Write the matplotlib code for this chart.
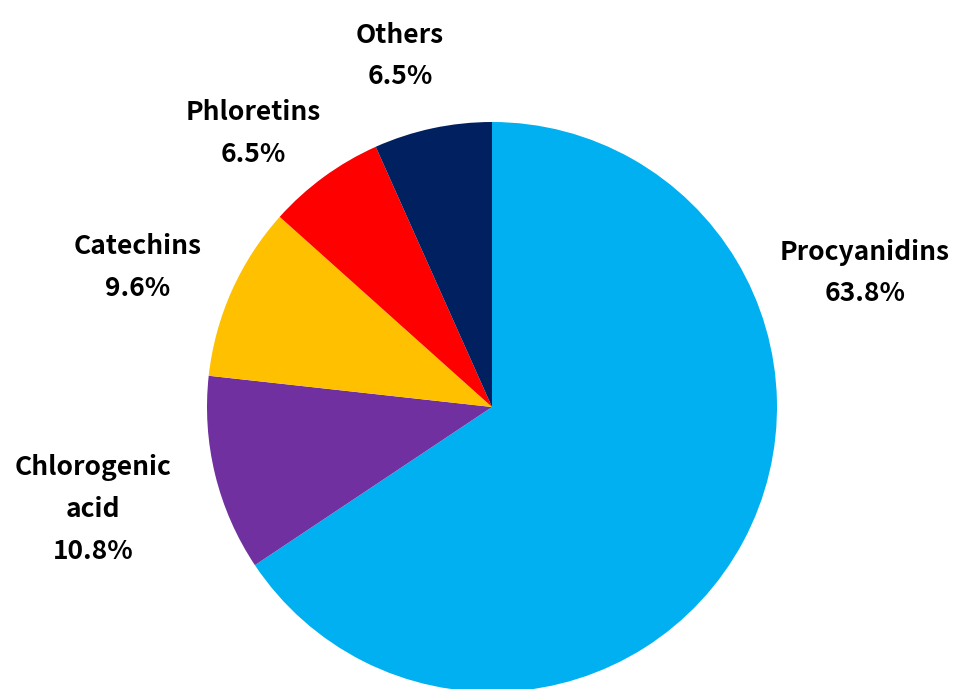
import matplotlib
matplotlib.use("Agg")
import matplotlib.pyplot as plt

labels = ["Procyanidins", "Chlorogenic\nacid", "Catechins", "Phloretins", "Others"]
values = [63.8, 10.8, 9.6, 6.5, 6.5]
colors = ["#00B0F0", "#7030A0", "#FFC000", "#FF0000", "#002060"]
# label centres in axes data units (pie radius = 1)
label_pos = [(1.309, 0.47), (-1.40, -0.36), (-1.242, 0.49), (-0.839, 0.96), (-0.323, 1.232)]

plt.rcParams["font.family"] = ["Noto Sans CJK JP", "DejaVu Sans"]

fig = plt.figure(figsize=(9.57, 6.89), dpi=100)
ax = fig.add_axes([0, 0, 1, 1])
ax.pie(values, colors=colors, startangle=90, counterclock=False, radius=1,
       wedgeprops=dict(linewidth=0))
ax.set_xlim(-492 / 285, (957 - 492) / 285)
ax.set_ylim(-(689 - 407) / 285, 407 / 285)
ax.set_aspect("equal")
ax.axis("off")

for lab, v, (x, y) in zip(labels, values, label_pos):
    ax.text(x, y, f"{lab}\n{v:.1f}%", ha="center", va="center",
            fontsize=19, fontweight="bold", linespacing=1.7, color="black")

fig.savefig("out.png", dpi=100)
